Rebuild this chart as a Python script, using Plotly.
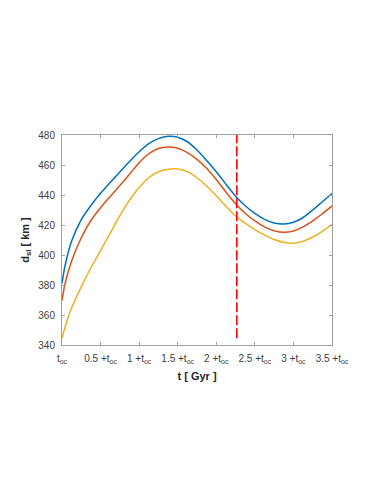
import plotly.graph_objects as go

# time grid [Gyr after t_oc]
t = [0, 0.04, 0.125, 0.25, 0.375, 0.5, 0.625, 0.75, 0.875, 1.0, 1.125, 1.25, 1.375, 1.5,
     1.625, 1.75, 1.875, 2.0, 2.125, 2.25, 2.375, 2.5, 2.625, 2.75, 2.875, 3.0, 3.125,
     3.25, 3.375, 3.5]

d_blue = [381, 393, 409.3, 423.6, 433, 441.1, 448.3, 455.3, 462.3, 468.8, 474.3, 477.6, 479.1, 478.5,
          475.5, 470, 463, 455.5, 447.2, 439.2, 432.8, 427.7, 423.8, 421.3, 420.6, 421.8, 425,
          430, 435.5, 441]
d_orange = [369.5, 381, 396, 411.5, 423, 431.5, 439, 446.3, 453.8, 461.5, 467.5, 471, 472, 471.2,
            468.3, 463.8, 457.8, 450.3, 442, 434.2, 427.8, 422.7, 418.8, 416.2, 415.1, 416, 418.8,
            422.8, 427.5, 432.7]
d_yellow = [344.4, 352, 364.8, 378.8, 391.5, 402.9, 414.6, 426.3, 436.5, 445, 451.5, 455.5, 457.2, 457.3,
            455.6, 451.5, 446, 439.5, 432.5, 426, 421.2, 416.9, 413.2, 410.3, 408.5, 407.9, 409.2,
            412, 415.8, 420.5]

# vertical marker
t_mark = 2.266
mark_y = [344.5, 480]

xtick_vals = [0, 0.5, 1, 1.5, 2, 2.5, 3, 3.5]
xtick_text = ["t<sub>oc</sub>", "0.5 +t<sub>oc</sub>", "1 +t<sub>oc</sub>", "1.5 +t<sub>oc</sub>",
              "2 +t<sub>oc</sub>", "2.5 +t<sub>oc</sub>", "3 +t<sub>oc</sub>", "3.5 +t<sub>oc</sub>"]
ytick_vals = [340, 360, 380, 400, 420, 440, 460, 480]

colors = ["#0072BD", "#D95319", "#EDB120"]
font_family = "Liberation Sans, Arial"

fig = go.Figure()
for ys, c in zip([d_blue, d_orange, d_yellow], colors):
    fig.add_trace(go.Scatter(x=t, y=ys, mode="lines",
                             line=dict(color=c, width=1.5, shape="spline", smoothing=0.8),
                             showlegend=False))

fig.add_trace(go.Scatter(x=[t_mark, t_mark], y=mark_y, mode="lines",
                         line=dict(color="#FF0000", width=1.6, dash="10px,3px"),
                         showlegend=False))

axis_common = dict(showline=True, linecolor="#a0a0a0", linewidth=1, mirror="ticks",
                   ticks="inside", ticklen=3, tickcolor="#a0a0a0", tickwidth=1,
                   showgrid=False, zeroline=False, ticklabelstandoff=4,
                   tickfont=dict(family=font_family, size=10, color="#404040"))

fig.update_layout(
    width=382, height=494,
    margin=dict(l=54, r=58, t=127, b=157),
    paper_bgcolor="white", plot_bgcolor="white",
    xaxis=dict(range=[0, 3.5], tickvals=xtick_vals, ticktext=xtick_text,
               title=dict(text="<b>t [ Gyr ]</b>", standoff=8,
                          font=dict(family=font_family, size=11, color="#262626")),
               **axis_common),
    yaxis=dict(range=[340, 480], tickvals=ytick_vals,
               title=dict(text="<b>d<sub>sl</sub> [ km ]</b>", standoff=6,
                          font=dict(family=font_family, size=11, color="#262626")),
               **axis_common),
)

fig.write_html("out.html")
